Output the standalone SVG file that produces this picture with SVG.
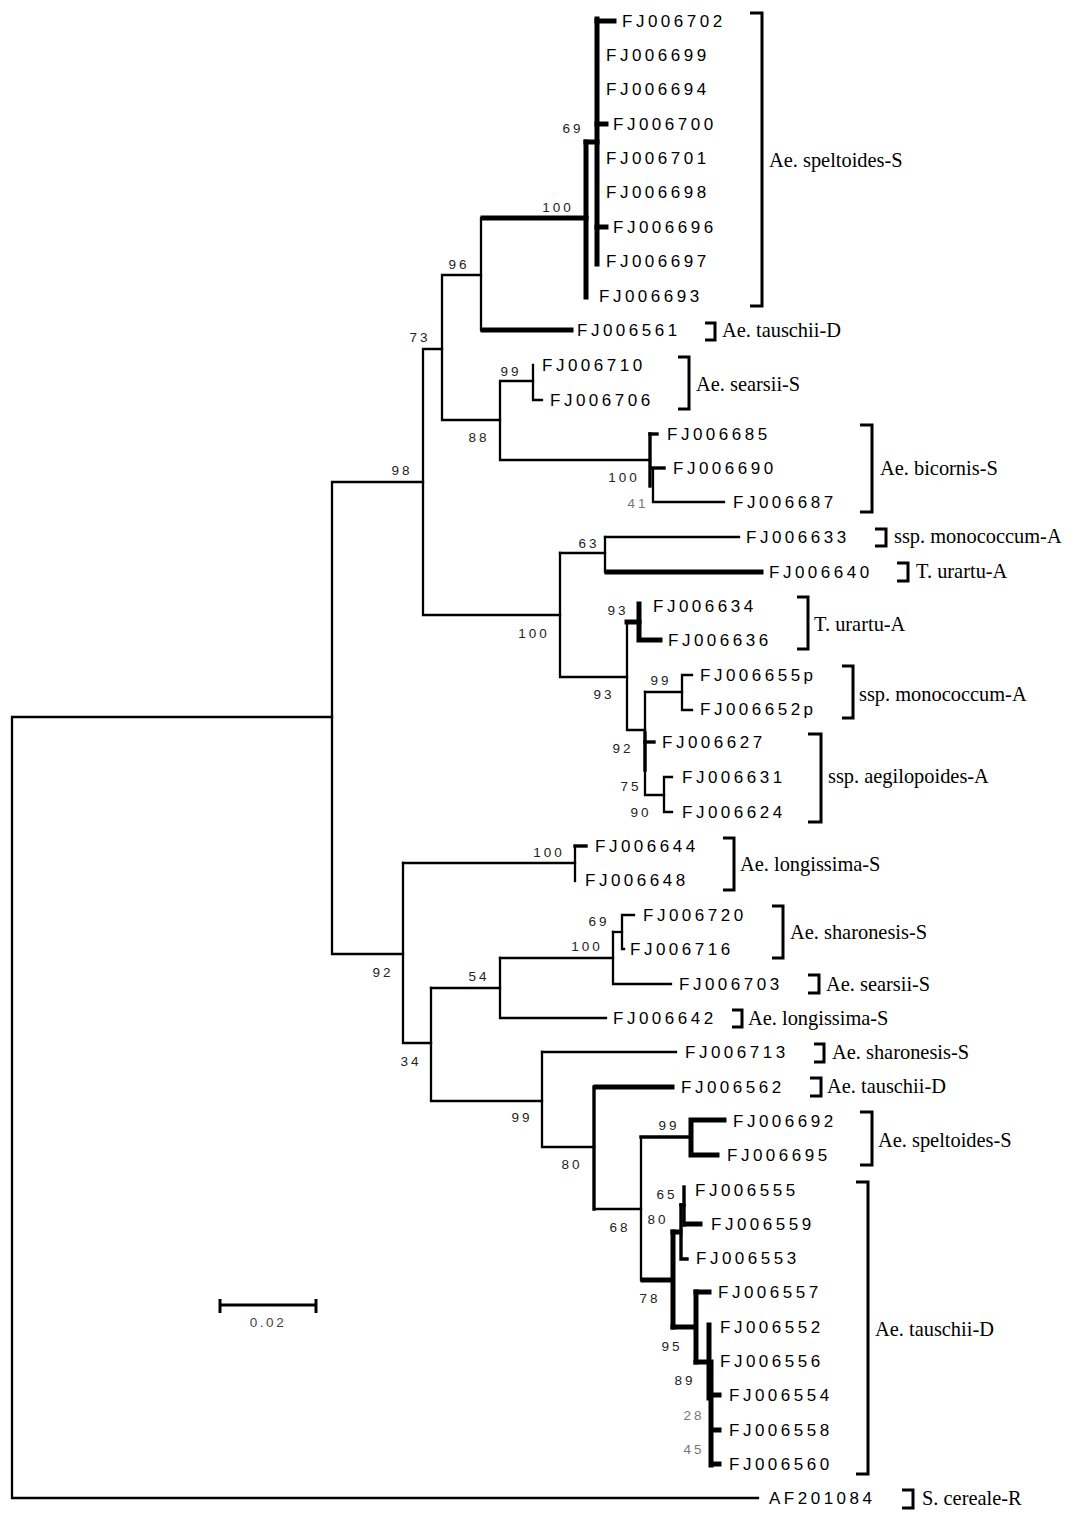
<svg xmlns="http://www.w3.org/2000/svg" width="1074" height="1526" viewBox="0 0 1074 1526">
<style>
.t{fill:none;stroke:#000;stroke-width:2.3;stroke-linejoin:miter;stroke-linecap:square}
.k{fill:none;stroke:#000;stroke-width:5;stroke-linejoin:miter;stroke-linecap:square}
.m{fill:none;stroke:#000;stroke-width:3.4;stroke-linejoin:miter;stroke-linecap:square}
.br{fill:none;stroke:#000;stroke-width:3}
.lf{font-family:"Liberation Sans",Arial,sans-serif;font-size:17px;letter-spacing:3.5px;fill:#000}
.bs{font-family:"Liberation Sans",Arial,sans-serif;font-size:13.5px;letter-spacing:3px;fill:#222;text-anchor:middle}
.gy{fill:#777}
.gl{font-family:"Liberation Serif","Times New Roman",serif;font-size:20.4px;fill:#000}
</style>
<rect width="1074" height="1526" fill="#fff"/>
<g id="connectors">
<path class="t" d="M332,717 H12 V1498 H758"/>
<path class="t" d="M423,482 H332 V954 H403"/>
<path class="t" d="M442,349 H423 V615 H560"/>
<path class="t" d="M481,275 H442 V420 H500"/>
<path class="t" d="M481,218 V330"/>
<path class="k" d="M483,218 H586"/>
<path class="k" d="M483,330 H571"/>
<path class="k" d="M586,142 V297"/>
<path class="k" d="M586,142 H597"/>
<path class="k" d="M597,19 V264"/>
<path class="k" d="M597,21 H614"/>
<path class="k" d="M597,124 H606"/>
<path class="k" d="M597,227 H606"/>
<path class="t" d="M533,381 H500 V460 H650"/>
<path class="t" d="M533,365 V400 H542"/>
<path class="m" d="M650,434 V486"/>
<path class="m" d="M650,434 H657"/>
<path class="m" d="M652,468 H664"/>
<path class="t" d="M653,470 V502 H724"/>
<path class="t" d="M560,553 V677 H627"/>
<path class="t" d="M560,553 H605"/>
<path class="t" d="M605,537 V572"/>
<path class="t" d="M605,537 H739"/>
<path class="k" d="M607,572 H761"/>
<path class="t" d="M627,622 V730 H645"/>
<path class="k" d="M627,622 H639"/>
<path class="k" d="M639,604 V640 H660"/>
<path class="t" d="M645,692 V795 H664"/>
<path class="m" d="M645,733 V770"/>
<path class="t" d="M645,692 H682"/>
<path class="t" d="M692,675 H682 V710 H692"/>
<path class="m" d="M645,742 H654"/>
<path class="t" d="M672,777 H664 V812 H672"/>
<path class="t" d="M403,863 V1043 H431"/>
<path class="t" d="M403,863 H575"/>
<path class="t" d="M575,846 V881"/>
<path class="m" d="M575,846 H586"/>
<path class="t" d="M431,988 V1101 H542"/>
<path class="t" d="M431,988 H500"/>
<path class="t" d="M500,958 V1018 H606"/>
<path class="t" d="M500,958 H613"/>
<path class="t" d="M613,932 V984 H671"/>
<path class="t" d="M613,932 H622"/>
<path class="t" d="M634,915 H622 V949 H624"/>
<path class="t" d="M542,1052 H676"/>
<path class="t" d="M542,1052 V1147 H594"/>
<path class="k" d="M596,1087 H672"/>
<path class="m" d="M594,1087 V1209"/>
<path class="t" d="M594,1209 H641 V1280"/>
<path class="t" d="M641,1137 V1209"/>
<path class="m" d="M641,1137 H690"/>
<path class="k" d="M724,1120 H691 V1155 H717"/>
<path class="k" d="M643,1280 H672"/>
<path class="k" d="M673,1232 V1327"/>
<path class="k" d="M673,1232 H680"/>
<path class="m" d="M681,1205 V1259 H687"/>
<path class="m" d="M681,1205 H684"/>
<path class="m" d="M684,1187 V1225"/>
<path class="k" d="M686,1224 H700"/>
<path class="k" d="M673,1327 H695"/>
<path class="k" d="M696,1292 V1362"/>
<path class="k" d="M696,1292 H709"/>
<path class="k" d="M696,1362 H708"/>
<path class="k" d="M709,1325 V1398"/>
<path class="k" d="M711,1362 V1465"/>
<path class="k" d="M712,1395 H719"/>
<path class="k" d="M712,1430 H719"/>
<path class="k" d="M712,1464 H719"/>
</g>
<g id="bootstrap">
<text class="bs" x="558" y="212">100</text>
<text class="bs" x="573" y="133">69</text>
<text class="bs" x="459" y="269">96</text>
<text class="bs" x="420" y="342">73</text>
<text class="bs" x="511" y="376">99</text>
<text class="bs" x="479" y="442">88</text>
<text class="bs" x="402" y="475">98</text>
<text class="bs" x="624" y="482">100</text>
<text class="bs gy" x="638" y="508">41</text>
<text class="bs" x="589" y="548">63</text>
<text class="bs" x="534" y="638">100</text>
<text class="bs" x="618" y="615">93</text>
<text class="bs" x="604" y="699">93</text>
<text class="bs" x="661" y="685">99</text>
<text class="bs" x="623" y="753">92</text>
<text class="bs" x="631" y="791">75</text>
<text class="bs" x="641" y="817">90</text>
<text class="bs" x="549" y="857">100</text>
<text class="bs" x="599" y="926">69</text>
<text class="bs" x="587" y="951">100</text>
<text class="bs" x="383" y="977">92</text>
<text class="bs" x="479" y="981">54</text>
<text class="bs" x="411" y="1066">34</text>
<text class="bs" x="522" y="1122">99</text>
<text class="bs" x="669" y="1130">99</text>
<text class="bs" x="572" y="1169">80</text>
<text class="bs" x="620" y="1232">68</text>
<text class="bs" x="667" y="1199">65</text>
<text class="bs" x="658" y="1224">80</text>
<text class="bs" x="650" y="1303">78</text>
<text class="bs" x="672" y="1351">95</text>
<text class="bs" x="685" y="1385">89</text>
<text class="bs gy" x="694" y="1420">28</text>
<text class="bs gy" x="694" y="1454">45</text>
</g>
<g id="leaves">
<g id="n-FJ006702"><text class="lf" x="622" y="27">FJ006702</text></g>
<g id="n-FJ006699"><text class="lf" x="606" y="61">FJ006699</text></g>
<g id="n-FJ006694"><text class="lf" x="606" y="95">FJ006694</text></g>
<g id="n-FJ006700"><text class="lf" x="613" y="130">FJ006700</text></g>
<g id="n-FJ006701"><text class="lf" x="606" y="164">FJ006701</text></g>
<g id="n-FJ006698"><text class="lf" x="606" y="198">FJ006698</text></g>
<g id="n-FJ006696"><text class="lf" x="613" y="233">FJ006696</text></g>
<g id="n-FJ006697"><text class="lf" x="606" y="267">FJ006697</text></g>
<g id="n-FJ006693"><text class="lf" x="599" y="302">FJ006693</text></g>
<g id="n-FJ006561"><text class="lf" x="577" y="336">FJ006561</text></g>
<g id="n-FJ006710"><text class="lf" x="542" y="371">FJ006710</text></g>
<g id="n-FJ006706"><text class="lf" x="550" y="406">FJ006706</text></g>
<g id="n-FJ006685"><text class="lf" x="667" y="440">FJ006685</text></g>
<g id="n-FJ006690"><text class="lf" x="673" y="474">FJ006690</text></g>
<g id="n-FJ006687"><text class="lf" x="733" y="508">FJ006687</text></g>
<g id="n-FJ006633"><text class="lf" x="746" y="543">FJ006633</text></g>
<g id="n-FJ006640"><text class="lf" x="769" y="578">FJ006640</text></g>
<g id="n-FJ006634"><text class="lf" x="653" y="612">FJ006634</text></g>
<g id="n-FJ006636"><text class="lf" x="668" y="646">FJ006636</text></g>
<g id="n-FJ006655p"><text class="lf" x="700" y="681">FJ006655p</text></g>
<g id="n-FJ006652p"><text class="lf" x="700" y="715">FJ006652p</text></g>
<g id="n-FJ006627"><text class="lf" x="662" y="748">FJ006627</text></g>
<g id="n-FJ006631"><text class="lf" x="682" y="783">FJ006631</text></g>
<g id="n-FJ006624"><text class="lf" x="682" y="818">FJ006624</text></g>
<g id="n-FJ006644"><text class="lf" x="595" y="852">FJ006644</text></g>
<g id="n-FJ006648"><text class="lf" x="585" y="886">FJ006648</text></g>
<g id="n-FJ006720"><text class="lf" x="643" y="921">FJ006720</text></g>
<g id="n-FJ006716"><text class="lf" x="630" y="955">FJ006716</text></g>
<g id="n-FJ006703"><text class="lf" x="679" y="990">FJ006703</text></g>
<g id="n-FJ006642"><text class="lf" x="613" y="1024">FJ006642</text></g>
<g id="n-FJ006713"><text class="lf" x="685" y="1058">FJ006713</text></g>
<g id="n-FJ006562"><text class="lf" x="681" y="1093">FJ006562</text></g>
<g id="n-FJ006692"><text class="lf" x="733" y="1127">FJ006692</text></g>
<g id="n-FJ006695"><text class="lf" x="727" y="1161">FJ006695</text></g>
<g id="n-FJ006555"><text class="lf" x="695" y="1196">FJ006555</text></g>
<g id="n-FJ006559"><text class="lf" x="711" y="1230">FJ006559</text></g>
<g id="n-FJ006553"><text class="lf" x="696" y="1264">FJ006553</text></g>
<g id="n-FJ006557"><text class="lf" x="718" y="1298">FJ006557</text></g>
<g id="n-FJ006552"><text class="lf" x="720" y="1333">FJ006552</text></g>
<g id="n-FJ006556"><text class="lf" x="720" y="1367">FJ006556</text></g>
<g id="n-FJ006554"><text class="lf" x="729" y="1401">FJ006554</text></g>
<g id="n-FJ006558"><text class="lf" x="729" y="1436">FJ006558</text></g>
<g id="n-FJ006560"><text class="lf" x="729" y="1470">FJ006560</text></g>
<g id="n-AF201084"><text class="lf" x="769" y="1504">AF201084</text></g>
</g>
<g id="groups">
<g id="g-speltoides1"><path class="br" d="M750,13 H762 V306 H750"/><text class="gl" x="769" y="167">Ae. speltoides-S</text></g>
<g id="g-tauschii1"><path class="br" d="M705,323 H715 V340 H705"/><text class="gl" x="722" y="337">Ae. tauschii-D</text></g>
<g id="g-searsii1"><path class="br" d="M678,357 H689 V409 H678"/><text class="gl" x="696" y="391">Ae. searsii-S</text></g>
<g id="g-bicornis"><path class="br" d="M860,425 H872 V512 H860"/><text class="gl" x="880" y="475">Ae. bicornis-S</text></g>
<g id="g-monococcum1"><path class="br" d="M875,529 H886 V546 H875"/><text class="gl" x="894" y="543">ssp. monococcum-A</text></g>
<g id="g-urartu1"><path class="br" d="M897,563 H908 V581 H897"/><text class="gl" x="916" y="578">T. urartu-A</text></g>
<g id="g-urartu2"><path class="br" d="M797,597 H808 V649 H797"/><text class="gl" x="814" y="631">T. urartu-A</text></g>
<g id="g-monococcum2"><path class="br" d="M842,666 H853 V718 H842"/><text class="gl" x="859" y="701">ssp. monococcum-A</text></g>
<g id="g-aegilopoides"><path class="br" d="M808,734 H821 V822 H808"/><text class="gl" x="828" y="783">ssp. aegilopoides-A</text></g>
<g id="g-longissima1"><path class="br" d="M723,838 H734 V890 H723"/><text class="gl" x="740" y="871">Ae. longissima-S</text></g>
<g id="g-sharonesis1"><path class="br" d="M772,906 H783 V958 H772"/><text class="gl" x="790" y="939">Ae. sharonesis-S</text></g>
<g id="g-searsii2"><path class="br" d="M808,975 H819 V993 H808"/><text class="gl" x="826" y="991">Ae. searsii-S</text></g>
<g id="g-longissima2"><path class="br" d="M732,1010 H742 V1027 H732"/><text class="gl" x="748" y="1025">Ae. longissima-S</text></g>
<g id="g-sharonesis2"><path class="br" d="M814,1044 H824 V1062 H814"/><text class="gl" x="832" y="1059">Ae. sharonesis-S</text></g>
<g id="g-tauschii2"><path class="br" d="M810,1078 H821 V1096 H810"/><text class="gl" x="827" y="1093">Ae. tauschii-D</text></g>
<g id="g-speltoides2"><path class="br" d="M860,1112 H872 V1165 H860"/><text class="gl" x="878" y="1147">Ae. speltoides-S</text></g>
<g id="g-tauschii3"><path class="br" d="M856,1182 H868 V1474 H856"/><text class="gl" x="875" y="1336">Ae. tauschii-D</text></g>
<g id="g-cereale"><path class="br" d="M902,1490 H913 V1508 H902"/><text class="gl" x="922" y="1505">S. cereale-R</text></g>
</g>
<g id="scale-bar">
<path fill="none" stroke="#000" stroke-width="3" d="M219,1305 H316 M220,1299 V1313 M316,1299 V1313"/>
<text x="268" y="1327" font-family="Liberation Sans, Arial, sans-serif" font-size="13.5" letter-spacing="2.5" fill="#444" text-anchor="middle">0.02</text>
</g>
</svg>
